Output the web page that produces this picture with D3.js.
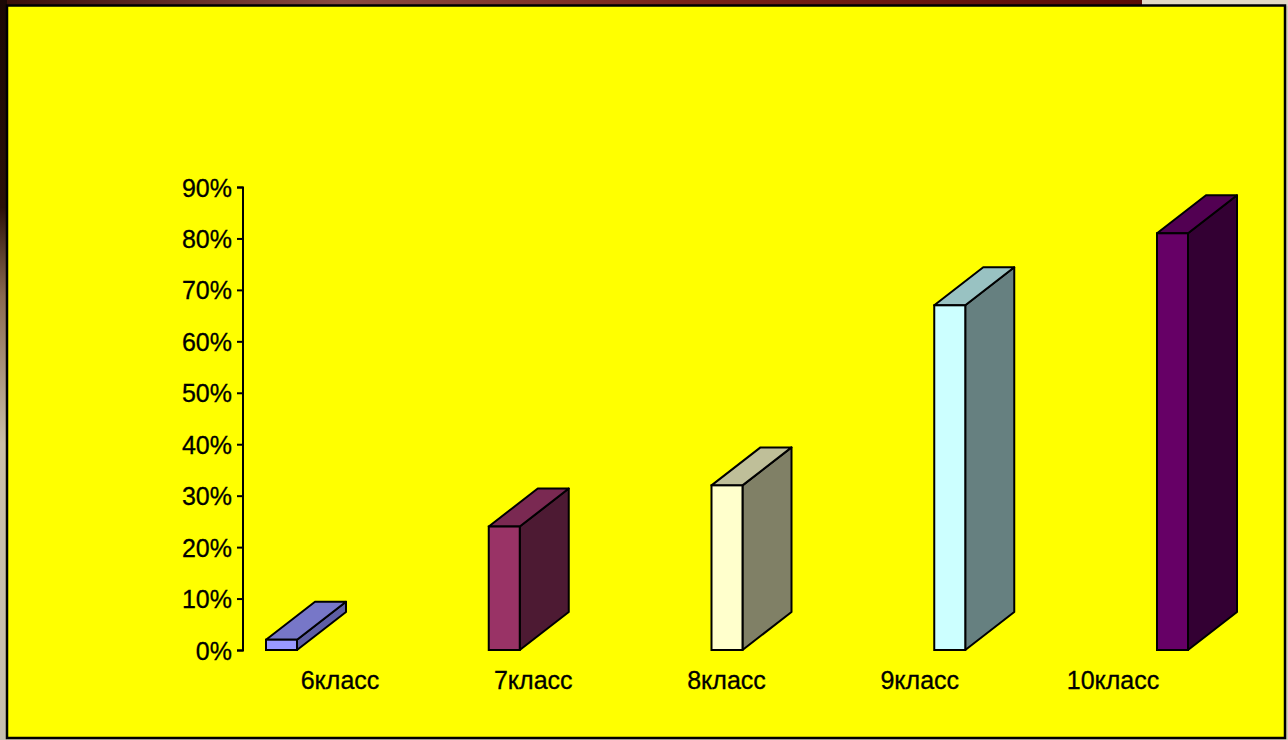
<!DOCTYPE html>
<html>
<head>
<meta charset="utf-8">
<script src="https://cdn.jsdelivr.net/npm/d3@7"></script>
<style>
html,body{margin:0;padding:0;background:#d6cbb8;overflow:hidden;}
svg{display:block;}
text{font-family:"Liberation Sans",Arial,sans-serif;}
</style>
</head>
<body>
<svg id="c" width="1288" height="740"></svg>
<script>
// ---- data ----
const categories = ["6класс", "7класс", "8класс", "9класс", "10класс"];
const values = [0.02, 0.24, 0.32, 0.67, 0.81];
const tickValues = [0, 0.1, 0.2, 0.3, 0.4, 0.5, 0.6, 0.7, 0.8, 0.9];

// ---- styles ----
const frontColors = ["#9999FF", "#993366", "#FFFFCC", "#CCFFFF", "#660066"];
const topColors   = ["#7777C8", "#7A2952", "#BFBF99", "#99C2C2", "#520052"];
const sideColors  = ["#5E5EA3", "#4D1A33", "#808066", "#668080", "#330033"];

const svg = d3.select("#c");

// backdrop frame
const defs = svg.append("defs");
const gTop = defs.append("linearGradient").attr("id","gt").attr("x1",0).attr("x2",1);
gTop.append("stop").attr("offset",0).attr("stop-color","#3a0f0a");
gTop.append("stop").attr("offset",0.3).attr("stop-color","#8a4a40");
gTop.append("stop").attr("offset",0.6).attr("stop-color","#7a2418");
gTop.append("stop").attr("offset",1).attr("stop-color","#5a0c06");
const gLeft = defs.append("linearGradient").attr("id","gl").attr("x1",0).attr("x2",0).attr("y1",0).attr("y2",1);
gLeft.append("stop").attr("offset",0).attr("stop-color","#1a0805");
gLeft.append("stop").attr("offset",0.28).attr("stop-color","#2a1008");
gLeft.append("stop").attr("offset",0.4).attr("stop-color","#8a6a50");
gLeft.append("stop").attr("offset",0.6).attr("stop-color","#cbbfa8");
gLeft.append("stop").attr("offset",1).attr("stop-color","#c8bfae");

svg.append("rect").attr("x",0).attr("y",0).attr("width",1142).attr("height",6).attr("fill","url(#gt)");
svg.append("rect").attr("x",1142).attr("y",0).attr("width",146).attr("height",6).attr("fill","#e2d8c4");
svg.append("rect").attr("x",0).attr("y",0).attr("width",7).attr("height",740).attr("fill","url(#gl)");

svg.append("rect")
  .attr("x",7).attr("y",5.5).attr("width",1278).attr("height",732.5)
  .attr("fill","#FFFF00").attr("stroke","#000").attr("stroke-width",2.5);

// scales
const y = d3.scaleLinear().domain([0, 0.9]).range([650, 187]);
const xBar = d3.scalePoint().domain(categories).range([281.5, 1172.5]);
const xLab = d3.scalePoint().domain(categories).range([340, 1113]);
const barW = 31, dx = 49, dy = -38;

// y axis
const yAxis = d3.axisLeft(y).tickValues(tickValues).tickFormat(d3.format(".0%")).tickSize(6).tickPadding(5);
const ga = svg.append("g").attr("transform","translate(243,0)").call(yAxis);
ga.select(".domain").attr("stroke","#000").attr("stroke-width",2).attr("d","M-6,187.5H0V650.5H-6");
ga.selectAll(".tick line").attr("stroke","#000").attr("stroke-width",2);
ga.selectAll(".tick text").attr("fill","#000").attr("font-size","25px")
  .attr("font-family","'Liberation Sans',Arial,sans-serif").attr("dy","0.36em")
  .attr("stroke","#000").attr("stroke-width",0.3);

// bars
const data = categories.map((c,i)=>({c, v: values[i], i}));
const bars = svg.append("g").selectAll("g").data(data).join("g");
bars.each(function(d){
  const g = d3.select(this);
  const x0 = xBar(d.c) - barW/2, x1 = x0 + barW;
  const yt = y(d.v), yb = y(0);
  // side
  g.append("path")
    .attr("d",`M${x1},${yt}L${x1+dx},${yt+dy}L${x1+dx},${yb+dy}L${x1},${yb}Z`)
    .attr("fill",sideColors[d.i]).attr("stroke","#000").attr("stroke-width",2).attr("stroke-linejoin","round");
  // top
  g.append("path")
    .attr("d",`M${x0},${yt}L${x0+dx},${yt+dy}L${x1+dx},${yt+dy}L${x1},${yt}Z`)
    .attr("fill",topColors[d.i]).attr("stroke","#000").attr("stroke-width",2).attr("stroke-linejoin","round");
  // front
  g.append("rect")
    .attr("x",x0).attr("y",yt).attr("width",barW).attr("height",yb-yt)
    .attr("fill",frontColors[d.i]).attr("stroke","#000").attr("stroke-width",2);
});

// category labels
svg.append("g").selectAll("text").data(categories).join("text")
  .attr("x",d=>xLab(d)).attr("y",689)
  .attr("text-anchor","middle").attr("font-size","25px").attr("fill","#000")
  .attr("stroke","#000").attr("stroke-width",0.3)
  .text(d=>d);
</script>
</body>
</html>
